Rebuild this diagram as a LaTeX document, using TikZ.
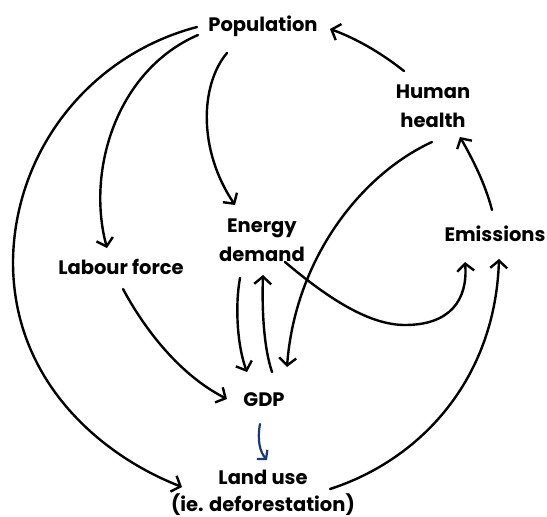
\documentclass[tikz,border=0pt]{standalone}
\usepackage{fontspec}
\setmainfont{Poppins Bold}
\usetikzlibrary{arrows.meta}
\definecolor{navy}{RGB}{28,58,110}
\begin{document}
\begin{tikzpicture}[x=1pt,y=-1pt,
  lbl/.style={anchor=base, inner sep=0pt, align=center, font=\fontsize{19.5}{29}\selectfont},
  link/.style={line width=2.4pt, line cap=round, line join=round, -{Straight Barb[length=7.5pt,width=17pt]}},
  bluelink/.style={link, draw=navy, line width=2.2pt, -{Straight Barb[length=6pt,width=14pt]}},
]
\fill[white] (0,0) rectangle (547,517);
\useasboundingbox (0,0) rectangle (547,517);

\node[lbl] (pop) at (263,31) {Population};
\node[lbl] (hh) at (433,127) {Human\\health};
\node[lbl] (en) at (262,261) {Energy\\demand};
\node[lbl] (em) at (495,241) {Emissions};
\node[lbl] (lab) at (121,274) {Labour force};
\node[lbl] (gdp) at (264,406) {GDP};
\node[lbl, font=\fontsize{19.5}{27.5}\selectfont] (land) at (263,511.5) {Land use\\(ie. deforestation)};

% Population -> Land use
\draw[link] ([shift={(-66,-4)}]pop.base) .. controls (90,55) and (15,150) .. (13,260)
  .. controls (12,380) and (100,455) .. ([shift={(-81,-24.5)}]land.base);
% Population -> Labour force
\draw[link] ([shift={(-65,4)}]pop.base) .. controls (117,70) and (86,170) .. ([shift={(-14,-26)}]lab.base);
% Population -> Energy demand
\draw[link] ([shift={(-36,22)}]pop.base) .. controls (200,85) and (198,150) .. ([shift={(-27,-56)}]en.base);
% Human health -> Population
\draw[link] ([shift={(-29,-56)}]hh.base) .. controls (380,52) and (355,38) .. ([shift={(67,-2)}]pop.base);
% Emissions -> Human health
\draw[link] ([shift={(-3,-31)}]em.base) .. controls (485,183) and (472,158) .. ([shift={(27,10)}]hh.base);
% Human health -> GDP
\draw[link] ([shift={(-1,15)}]hh.base) .. controls (360,175) and (295,260) .. ([shift={(23,-39)}]gdp.base);
% Energy demand -> Emissions
\draw[link] ([shift={(23,1)}]en.base) .. controls (330,300) and (370,325) .. (405,325)
  .. controls (450,325) and (468,300) .. ([shift={(-30,21)}]em.base);
% Labour force -> GDP
\draw[link] ([shift={(2,15)}]lab.base) .. controls (145,330) and (180,375) .. ([shift={(-37,-7)}]gdp.base);
% Energy demand -> GDP
\draw[link] ([shift={(-22,17)}]en.base) .. controls (235,305) and (237,345) .. ([shift={(-17,-34)}]gdp.base);
% GDP -> Energy demand
\draw[link] ([shift={(8,-34)}]gdp.base) .. controls (263,345) and (262,305) .. ([shift={(1,14)}]en.base);
% GDP -> Land use (blue)
\draw[bluelink] ([shift={(-4,18)}]gdp.base) .. controls (257,440) and (260,452) .. ([shift={(4,-51.5)}]land.base);
% Land use -> Emissions
\draw[link] ([shift={(67,-22.5)}]land.base) .. controls (420,460) and (495,380) .. ([shift={(4,18)}]em.base);
\end{tikzpicture}
\end{document}
